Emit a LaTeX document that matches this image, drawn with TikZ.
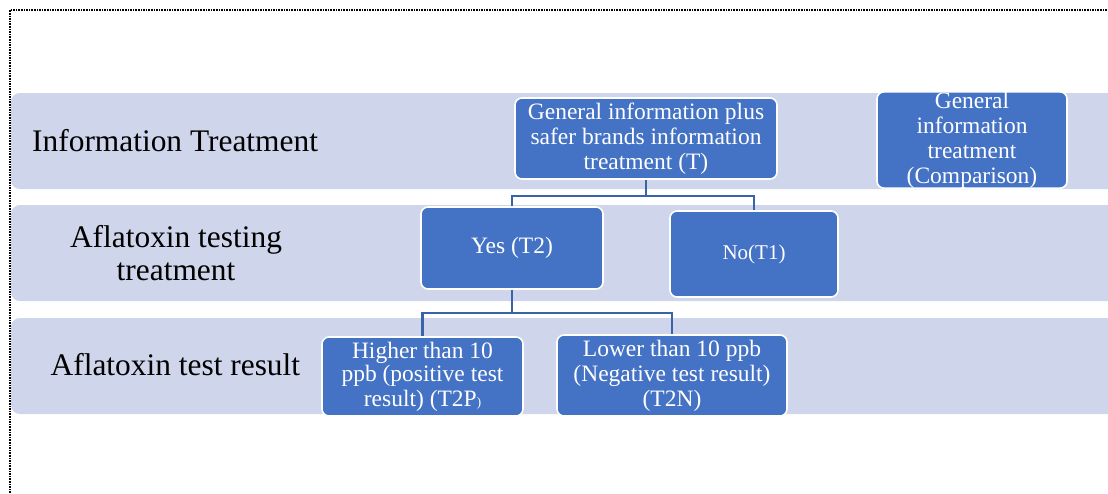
\documentclass[tikz,border=0pt]{standalone}
\usepackage{fontspec}
\setmainfont{Liberation Serif}

\definecolor{bandblue}{HTML}{CFD5EA}
\definecolor{boxblue}{HTML}{4472C4}
\definecolor{lineblue}{HTML}{3862AA}

\tikzset{
    band/.style={fill=bandblue, rounded corners=9},
    tbox/.style={draw=white, line width=1.6, fill=boxblue, rounded corners=7, text=white, align=center, inner sep=0, font=\fontsize{23.5}{25}\selectfont},
    rowlabel/.style={align=center, inner sep=0, font=\fontsize{31.4}{32.4}\selectfont},
    link/.style={draw=lineblue, line width=2.3},
}

\begin{document}
\begin{tikzpicture}[x=1pt, y=-1pt]
        \useasboundingbox (0, 0) rectangle (1108, 493);
        \clip (0, 0) rectangle (1108, 493);
        \draw[dash pattern=on 1.6pt off 1pt, line width=1.4] (10, 493) -- (10, 10) -- (1108, 10);

        % the three rows
        \fill[band] (11, 93) rectangle (1130, 189);
        \fill[band] (11, 205) rectangle (1130, 301);
        \fill[band] (11, 318) rectangle (1130, 414);

        \node[rowlabel, anchor=base west] (infolab) at (32, 151) {Information Treatment};
        \node[rowlabel] (testlab) at (176, 253) {Aflatoxin testing\\treatment};
        \node[rowlabel, anchor=base west] (resultlab) at (50.5, 375.7) {Aflatoxin test result};

        % boxes
        \node[tbox, minimum width=262, minimum height=81] (treat) at (646, 138.5) {General information plus\\safer brands information\\treatment (T)};
        \node[tbox, minimum width=190, minimum height=96] (comp) at (972, 140) {General\\information\\treatment\\(Comparison)};
        \node[tbox, minimum width=182, minimum height=82] (yes) at (512, 248) {\raisebox{-3pt}{Yes (T2)}};
        \node[tbox, minimum width=168, minimum height=86, font=\fontsize{21}{23}\selectfont] (no) at (754, 254) {No(T1)};
        \node[tbox, minimum width=201, minimum height=79] (high) at (422.5, 376.5) {\raisebox{-2pt}{Higher than 10}\\ppb (positive test\\result) (T2P{\fontsize{13}{13}\selectfont )}};
        \node[tbox, minimum width=230, minimum height=81] (low) at (672, 375.5) {Lower than 10 ppb\\(Negative test result)\\(T2N)};

        % connectors
        \draw[link] (treat.south) -- ++(0, 16) -| (yes);
        \draw[link] (treat.south) -- ++(0, 16) -| (no);
        \draw[link] (yes.south) -- ++(0, 23) -| (high);
        \draw[link] (yes.south) -- ++(0, 23) -| (low);
    \end{tikzpicture}
\end{document}
